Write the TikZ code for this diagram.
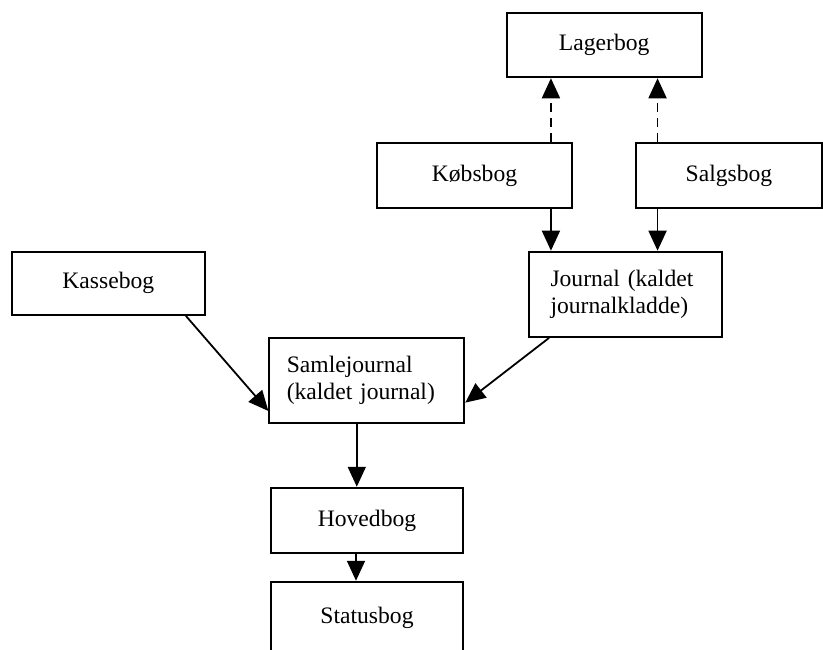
\documentclass[tikz,border=0pt]{standalone}
\usepackage{fontspec}
\setmainfont{Liberation Serif}
\usetikzlibrary{arrows.meta}
\tikzset{
  box/.style={draw, line width=1.9pt, rectangle, inner sep=0pt,
    font=\fontsize{23.6}{26.5}\selectfont},
  leftbox/.style={box, align=left, inner xsep=0pt},
  link/.style={line width=1.8pt, -{Triangle[length=20pt,width=18pt]}},
  dashlink/.style={link, dash pattern=on 9pt off 6pt},
}
\begin{document}
\begin{tikzpicture}[x=1pt, y=-1pt]
  \clip (0,0) rectangle (823,649);
  \fill[white] (0,0) rectangle (823,649);

  % ledgers
  \node[box, minimum width=195pt, minimum height=64.6pt] (lager) at (604.2,45) {Lagerbog};
  \node[box, minimum width=194.4pt, minimum height=65.6pt] (kob) at (474.5,175.5) {Købsbog};
  \node[box, minimum width=186pt, minimum height=65.6pt] (salg) at (729,175.5) {Salgsbog};
  \node[box, minimum width=193.3pt, minimum height=63.3pt] (kasse) at (108.3,283.3) {Kassebog};
  \node[leftbox, text width=150pt, minimum width=192.4pt, minimum height=85.3pt] (jour) at (625.5,294.3)
    {Journal (kaldet\\journalkladde)};
  \node[leftbox, text width=160pt, minimum width=195pt, minimum height=85pt] (saml) at (366.8,380.2)
    {Samlejournal\\(kaldet journal)};
  \node[box, minimum width=192.6pt, minimum height=65.6pt] (hoved) at (367,520.5) {Hovedbog};
  % the status book runs off the bottom edge
  \node[box, minimum width=192.4pt, minimum height=72pt] (status) at (367,617.7) {Statusbog};

  % stock links
  \draw[dashlink] ([xshift=-21.7pt]kob.north east) -- ([xshift=-21.7pt]kob.north east |- lager.south);
  \draw[dashlink] ([xshift=22.5pt]salg.north west) -- ([xshift=22.5pt]salg.north west |- lager.south);

  % postings into the journal
  \draw[link] ([xshift=-21.7pt]kob.south east) -- ([xshift=-21.7pt]kob.south east |- jour.north);
  \draw[link] ([xshift=22.5pt]salg.south west) -- ([xshift=22.5pt]salg.south west |- jour.north);

  % into the combined journal
  \draw[link] ([xshift=-20pt]kasse.south east) -- ([yshift=12.7pt]saml.south west);
  \draw[link] ([xshift=20.7pt]jour.south west) -- ([yshift=21pt]saml.south east);

  % general ledger and status
  \draw[link] ([xshift=-10pt]saml.south) -- ([xshift=-10pt]saml.south |- hoved.north);
  \draw[link] ([xshift=-11pt]hoved.south) -- ([xshift=-11pt]hoved.south |- status.north);
\end{tikzpicture}
\end{document}
